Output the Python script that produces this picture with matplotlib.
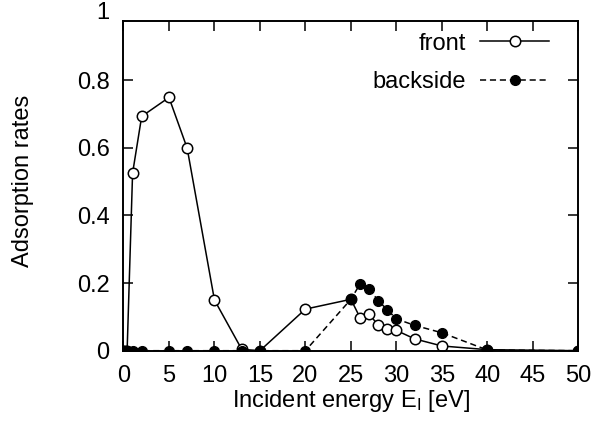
import matplotlib
matplotlib.use("Agg")
import matplotlib.pyplot as plt

plt.rcParams['font.family'] = ['Liberation Sans', 'DejaVu Sans']
plt.rcParams['mathtext.fontset'] = 'custom'
plt.rcParams['mathtext.rm'] = 'Liberation Sans'
plt.rcParams['mathtext.it'] = 'Liberation Sans'

# incident energy [eV]
energy = [0, 0.2, 0.4, 1, 2, 5, 7, 10, 13, 15, 20, 25, 26, 27, 28, 29, 30, 32, 35, 40, 50]
front = [0, 0, 0, 0.525, 0.693, 0.749, 0.599, 0.15, 0.004, 0, 0.123, 0.152,
         0.098, 0.109, 0.075, 0.064, 0.06, 0.035, 0.014, 0.003, 0]
backside = [0, 0, 0, 0, 0, 0, 0, 0, 0, 0, 0, 0.152,
            0.197, 0.183, 0.148, 0.121, 0.094, 0.075, 0.053, 0.002, 0]
xticks = [0, 5, 10, 15, 20, 25, 30, 35, 40, 45, 50]
yticks = [0, 0.2, 0.4, 0.6, 0.8]

fs = 17

fig = plt.figure(figsize=(6.11, 4.21), dpi=100)
ax = fig.add_axes([0.2021, 0.167, 0.7444, 0.7838])

ax.plot(energy, front, '-o', color='black', lw=1.1, ms=7.5,
        mfc='white', mec='black', mew=1.1, label='front')
ax.plot(energy, backside, '--o', color='black', lw=1.1, ms=7,
        mfc='black', mec='black', dashes=(4, 2.5), label='backside')

ax.set_xlim(0, 50)
ax.set_ylim(0, 0.976)
ax.set_xticks(xticks)
ax.set_yticks(yticks)
ax.set_yticklabels(['0', '0.2', '0.4', '0.6', '0.8'])
ax.tick_params(direction='in', length=7, width=1.1, labelsize=fs,
               top=True, right=True)
ax.tick_params(axis='y', pad=10)
ax.tick_params(axis='x', pad=10)
# the "1" label sits above the frame in the original
ax.annotate('1', xy=(0, 1), xycoords=('axes fraction', 'data'),
            xytext=(-10, 0), textcoords='offset points',
            ha='right', va='center', fontsize=fs, annotation_clip=False)

for s in ax.spines.values():
    s.set_linewidth(1.4)

ax.set_xlabel('Incident energy E$_\\mathrm{I}$ [eV]', fontsize=fs)
ax.set_ylabel('Adsorption rates', fontsize=fs)
ax.xaxis.set_label_coords(0.5, -0.112)
ax.yaxis.set_label_coords(-0.197, 0.514)

ax.legend(loc='upper right', bbox_to_anchor=(0.982, 1.028), frameon=False,
          markerfirst=False, handlelength=2.9, fontsize=fs,
          labelspacing=0.7, handletextpad=0.6)

plt.savefig('out.png', dpi=100)
